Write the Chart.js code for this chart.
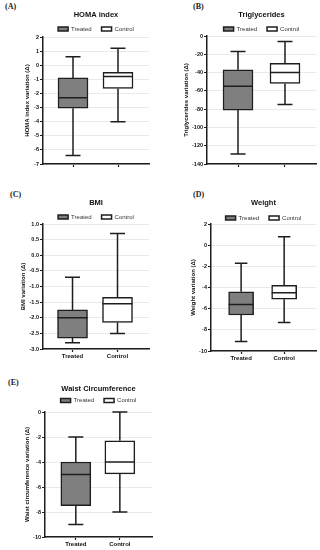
<!DOCTYPE html>
<html lang="en">
<head>
<meta charset="UTF-8">
<title>Treated vs Control box plots</title>
<script src="https://cdn.jsdelivr.net/npm/chart.js"></script>
<style>
    * { box-sizing: border-box; margin: 0; padding: 0; }
    body { width: 320px; height: 550px; background: #fff; position: relative; overflow: hidden; font-family: "Liberation Sans", Arial, sans-serif; }
    .panel { position: absolute; }
    .tag { position: absolute; font-family: "Liberation Serif", serif; font-size: 8px; font-weight: bold; color: #222; }
</style>
</head>
<body>
<div class="tag" style="left:5px;top:2px">(A)</div>
<div class="tag" style="left:193px;top:2px">(B)</div>
<div class="tag" style="left:10px;top:190px">(C)</div>
<div class="tag" style="left:193px;top:190px">(D)</div>
<div class="tag" style="left:8px;top:378px">(E)</div>

<div class="panel" style="left:0;top:0;width:160px;height:172px"><canvas id="homa"></canvas></div>
<div class="panel" style="left:160px;top:0;width:160px;height:172px"><canvas id="tg"></canvas></div>
<div class="panel" style="left:0;top:188px;width:160px;height:175px"><canvas id="bmi"></canvas></div>
<div class="panel" style="left:160px;top:188px;width:160px;height:175px"><canvas id="weight"></canvas></div>
<div class="panel" style="left:0;top:372px;width:160px;height:178px"><canvas id="waist"></canvas></div>

<script>
    // groups and box stats: [min, Q1, median, Q3, max]
    const groups = ['Treated', 'Control'];

    const homaTreated = [-6.4, -3.05, -2.3, -0.9, 0.6];
    const homaControl = [-4.0, -1.65, -0.8, -0.5, 1.2];
    const homaTicks = [2, 1, 0, -1, -2, -3, -4, -5, -6, -7];

    const tgTreated = [-129, -81, -55, -37, -17];
    const tgControl = [-75, -52, -40, -30, -6];
    const tgTicks = [0, -20, -40, -60, -80, -100, -120, -140];

    const bmiTreated = [-2.8, -2.65, -2.0, -1.75, -0.7];
    const bmiControl = [-2.5, -2.15, -1.55, -1.35, 0.7];
    const bmiTicks = [1.0, 0.5, 0.0, -0.5, -1.0, -1.5, -2.0, -2.5, -3.0];

    const weightTreated = [-9.1, -6.6, -5.6, -4.4, -1.7];
    const weightControl = [-7.3, -5.1, -4.5, -3.8, 0.8];
    const weightTicks = [2, 0, -2, -4, -6, -8, -10];

    const waistTreated = [-9, -7.5, -5, -4, -2];
    const waistControl = [-8, -4.95, -4, -2.3, 0];
    const waistTicks = [0, -2, -4, -6, -8, -10];

    const fills = ['#7f7f7f', '#ffffff'];
    const ink = '#1e1e1e';

    // whiskers, caps and median line on top of the floating bars
    const whiskers = {
        id: 'whiskers',
        afterDatasetsDraw(chart) {
            const ctx = chart.ctx;
            const y = chart.scales.y;
            chart.data.datasets.forEach((ds, i) => {
                const bar = chart.getDatasetMeta(i).data[0];
                const s = ds.stats;
                const half = bar.width / 2;
                const cap = bar.width / 4;
                const py = s.map(v => y.getPixelForValue(v));
                ctx.save();
                ctx.strokeStyle = ink;
                ctx.lineWidth = 1.5;
                ctx.beginPath();
                ctx.moveTo(bar.x - half, py[2]); ctx.lineTo(bar.x + half, py[2]);
                ctx.moveTo(bar.x, py[1]); ctx.lineTo(bar.x, py[0]);
                ctx.moveTo(bar.x - cap, py[0]); ctx.lineTo(bar.x + cap, py[0]);
                ctx.moveTo(bar.x, py[3]); ctx.lineTo(bar.x, py[4]);
                ctx.moveTo(bar.x - cap, py[4]); ctx.lineTo(bar.x + cap, py[4]);
                ctx.stroke();
                ctx.restore();
            });
        }
    };

    function boxChart(id, stats, ticks, title, yTitle, o) {
        new Chart(document.getElementById(id), {
            type: 'bar',
            data: {
                datasets: groups.map((g, i) => ({
                    label: g,
                    data: [{ x: i, y: [stats[i][1], stats[i][3]] }],
                    stats: stats[i],
                    backgroundColor: fills[i],
                    borderColor: ink,
                    borderWidth: 1.5,
                    borderSkipped: false,
                    barThickness: o.box,
                    grouped: false
                }))
            },
            options: {
                responsive: true,
                maintainAspectRatio: false,
                animation: false,
                layout: { padding: { left: 0, right: o.right, top: o.top, bottom: 0 } },
                plugins: {
                    title: {
                        display: true, text: title, fullSize: false, color: '#111',
                        font: { family: 'Liberation Sans', size: 7.5, weight: 'bold' },
                        padding: { top: 0, bottom: o.gap }
                    },
                    legend: {
                        fullSize: false,
                        maxHeight: o.legendH,
                        labels: {
                            color: '#333', boxWidth: 10, boxHeight: 4, padding: 10,
                            font: { family: 'Liberation Sans', size: 6 }
                        }
                    },
                    tooltip: { enabled: false }
                },
                scales: {
                    x: {
                        type: 'linear', min: o.xmin, max: o.xmax, offset: false,
                        afterBuildTicks: s => { s.ticks = [{ value: 0 }, { value: 1 }]; },
                        afterFit: s => { s.height = o.xH; },
                        ticks: {
                            display: o.labels, color: '#111', padding: 1,
                            font: { family: 'Liberation Sans', size: 6, weight: 'bold' },
                            callback: v => groups[v]
                        },
                        grid: { drawOnChartArea: false, offset: false, tickLength: 3, tickColor: ink, tickWidth: 1.2 },
                        border: { color: ink, width: 1.5 }
                    },
                    y: {
                        min: ticks[ticks.length - 1], max: ticks[0],
                        afterBuildTicks: s => { s.ticks = ticks.map(v => ({ value: v })); },
                        afterFit: s => { s.width = o.yW; },
                        ticks: {
                            autoSkip: false, color: '#111', padding: 1,
                            font: { family: 'Liberation Sans', size: 5.5, weight: 'bold' },
                            callback: v => o.dec ? v.toFixed(o.dec) : v
                        },
                        title: {
                            display: true, text: yTitle, color: '#111',
                            font: { family: 'Liberation Sans', size: 6, weight: 'bold' },
                            padding: { top: o.titleX, bottom: 0 }
                        },
                        grid: { color: '#e4e4e4', lineWidth: 0.8, tickLength: 3, tickColor: ink, tickWidth: 1.2 },
                        border: { color: ink, width: 1.5 }
                    }
                }
            },
            plugins: [whiskers]
        });
    }

    boxChart('homa', [homaTreated, homaControl], homaTicks, 'HOMA index', 'HOMA index variation (Δ)',
        { yW: 43, right: 11, top: 10, gap: -3, xH: 8, legendH: 21, xmin: -0.667, xmax: 1.689, box: 30, labels: false, titleX: 24 });
    boxChart('tg', [tgTreated, tgControl], tgTicks, 'Triglycerides', 'Triglycerides variation (Δ)',
        { yW: 47, right: 4, top: 10, gap: -3, xH: 8, legendH: 20, xmin: -0.66, xmax: 1.66, box: 30, labels: false, titleX: 23 });
    boxChart('bmi', [bmiTreated, bmiControl], bmiTicks, 'BMI', 'BMI variation (Δ)',
        { yW: 43, right: 11, top: 10, gap: -3, xH: 14, legendH: 20, xmin: -0.656, xmax: 1.7, box: 30, labels: true, titleX: 20, dec: 1 });
    boxChart('weight', [weightTreated, weightControl], weightTicks, 'Weight', 'Weight variation (Δ)',
        { yW: 51, right: 4, top: 10, gap: -2, xH: 12, legendH: 19, xmin: -0.70, xmax: 1.74, box: 25, labels: true, titleX: 30 });
    boxChart('waist', [waistTreated, waistControl], waistTicks, 'Waist Circumference', 'Waist circumference variation (Δ)',
        { yW: 45, right: 8, top: 12, gap: -5.5, xH: 13, legendH: 24.5, xmin: -0.70, xmax: 1.73, box: 30, labels: true, titleX: 24 });
</script>
</body>
</html>
